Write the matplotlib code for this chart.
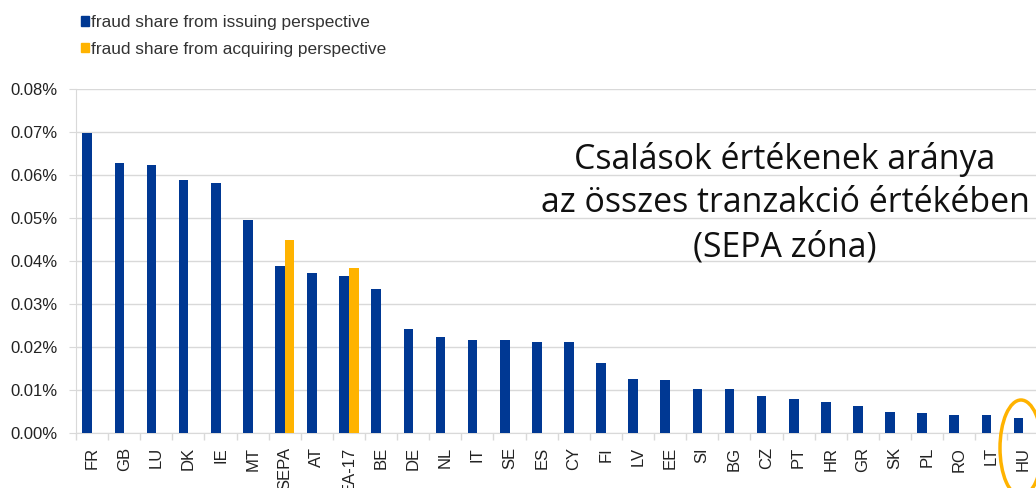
import numpy as np
import matplotlib
matplotlib.use("Agg")
import matplotlib.pyplot as plt
from matplotlib.patches import Ellipse, Patch
from matplotlib.ticker import FuncFormatter, FixedLocator

BLUE, YELLOW, GRID = "#003893", "#FFB300", "#D9D9D9"

countries = ["FR", "GB", "LU", "DK", "IE", "MT", "SEPA", "AT", "EA-17", "BE",
             "DE", "NL", "IT", "SE", "ES", "CY", "FI", "LV", "EE", "SI",
             "BG", "CZ", "PT", "HR", "GR", "SK", "PL", "RO", "LT", "HU"]
# fraud share in percent
issuing = [0.0697, 0.0627, 0.0623, 0.0588, 0.0582, 0.0495, 0.0388, 0.0371, 0.0364, 0.0335,
           0.0241, 0.0223, 0.0217, 0.0217, 0.0212, 0.0211, 0.0162, 0.0125, 0.0123, 0.0103,
           0.0103, 0.0087, 0.0080, 0.0072, 0.0062, 0.0049, 0.0046, 0.0042, 0.0042, 0.0034]
acquiring = [np.nan] * 6 + [0.0450, np.nan, 0.0384] + [np.nan] * 21

legend_labels = ["fraud share from issuing perspective",
                 "fraud share from acquiring perspective"]
title_text = "Csalások értékenek aránya\naz összes tranzakció értékében\n(SEPA zóna)"

plt.rcParams["font.family"] = ["Liberation Sans", "DejaVu Sans"]

fig = plt.figure(figsize=(10.36, 4.88), dpi=100)
ax = fig.add_axes([76 / 1036, 55 / 488, 1.0033 - 76 / 1036, (433 - 89) / 488])

x = np.arange(len(countries))
w = 0.3
ax.bar(x - w / 2, issuing, width=w, color=BLUE, zorder=3)
ax.bar(x + w / 2, acquiring, width=w, color=YELLOW, zorder=3)

ax.set_xlim(-0.5, len(countries) - 0.5)
ax.set_ylim(0, 0.08)
ax.set_yticks(np.arange(0, 0.081, 0.01))
ax.yaxis.set_major_formatter(FuncFormatter(lambda v, p: f"{v:.2f}%"))
ax.grid(axis="y", color=GRID, lw=1.0, zorder=0)

ax.set_xticks(x)
ax.set_xticklabels(countries, rotation=90, fontsize=12, color="#222222")
ax.tick_params(axis="x", length=0, pad=10)
ax.xaxis.set_minor_locator(FixedLocator(np.arange(-0.5, len(countries), 1)))
ax.tick_params(axis="x", which="minor", length=5, color=GRID, width=1)
ax.tick_params(axis="y", length=5, color=GRID, labelsize=12, labelcolor="#222222", pad=8)

for side in ["top", "right"]:
    ax.spines[side].set_visible(False)
for side in ["left", "bottom"]:
    ax.spines[side].set_color(GRID)

fig.text(785 / 1036, 1 - 203 / 488, title_text, ha="center", va="center",
         fontsize=24.4, family=["Open Sans", "DejaVu Sans"], linespacing=1.38, color="#111111")

handles = [Patch(color=BLUE), Patch(color=YELLOW)]
fig.legend(handles, legend_labels, loc="upper left", bbox_to_anchor=(65 / 1036, 1.0),
           frameon=False, fontsize=12.4, handlelength=0.5, handleheight=0.5,
           handletextpad=0.12, labelspacing=0.65, labelcolor="#333333")

fig.patches.append(Ellipse((1021 / 1036, 1 - 448 / 488), 42 / 1036, 96 / 488,
                           transform=fig.transFigure, fill=False,
                           edgecolor=YELLOW, lw=2.5))

fig.savefig("out.png", dpi=100)
